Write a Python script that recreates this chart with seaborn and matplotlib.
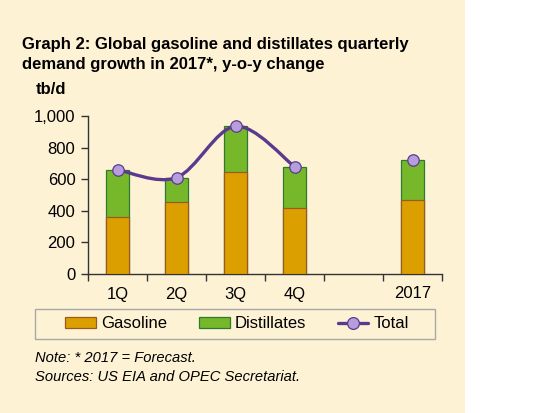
import numpy as np
import pandas as pd
import matplotlib
matplotlib.use('Agg')
import matplotlib.pyplot as plt
import seaborn as sns
from matplotlib.path import Path
from matplotlib.patches import PathPatch, Patch, Rectangle
from matplotlib.lines import Line2D
from matplotlib.ticker import FuncFormatter, FixedLocator

# values, tb/d
categories = ['1Q', '2Q', '3Q', '4Q', '2017']
order = ['1Q', '2Q', '3Q', '4Q', ' ', '2017']
gasoline = [363, 455, 645, 420, 470]
total = [660, 610, 935, 680, 720]

BG = '#FEF2D5'
GAS = '#DBA000'
GAS_EDGE = '#9A5A1E'
DIST = '#76B82A'
DIST_EDGE = '#2E7A32'
LINE = '#5B3A8E'
MARK = '#B59EDB'

sns.set_theme(style='white')
plt.rcParams['font.family'] = ['Liberation Sans', 'DejaVu Sans']
plt.rcParams['text.color'] = 'black'

df = pd.DataFrame({'period': categories, 'gasoline': gasoline, 'total': total})

fig = plt.figure(figsize=(5.5, 4.13), dpi=100, facecolor='white')
fig.patches.append(Rectangle((0, 0), 465 / 550, 1, transform=fig.transFigure,
                             facecolor=BG, edgecolor='none', zorder=-10))
# legend box
fig.patches.append(Rectangle((35 / 550, 1 - 339 / 413), 400 / 550, 30 / 413,
                             transform=fig.transFigure, facecolor=BG,
                             edgecolor='#A8A8A8', linewidth=1, zorder=-5))

ax = fig.add_axes([88 / 550, (413 - 274) / 413, (442 - 88) / 550, 158 / 413])
ax.set_zorder(2)
ax.set_facecolor(BG)

# total drawn in green first, gasoline laid over the lower part -> stacked look
sns.barplot(data=df, x='period', y='total', order=order, color=DIST,
            edgecolor=DIST_EDGE, linewidth=0.9, width=0.4, saturation=1, ax=ax, zorder=2)
sns.barplot(data=df, x='period', y='gasoline', order=order, color=GAS,
            edgecolor=GAS_EDGE, linewidth=0.9, width=0.4, saturation=1, ax=ax, zorder=3)

# smoothed total line through the quarters (Catmull-Rom style bezier)
pos = {c: i for i, c in enumerate(order)}
qx = np.array([pos[c] for c in categories[:4]], dtype=float)
qy = np.array(total[:4], dtype=float)
verts = [(qx[0], qy[0])]
codes = [Path.MOVETO]
n = len(qx)
for i in range(n - 1):
    p0 = np.array([qx[max(i - 1, 0)], qy[max(i - 1, 0)]])
    p1 = np.array([qx[i], qy[i]])
    p2 = np.array([qx[i + 1], qy[i + 1]])
    p3 = np.array([qx[min(i + 2, n - 1)], qy[min(i + 2, n - 1)]])
    c1 = p1 + (p2 - p0) / 6
    c2 = p2 - (p3 - p1) / 6
    verts += [tuple(c1), tuple(c2), tuple(p2)]
    codes += [Path.CURVE4] * 3
ax.add_patch(PathPatch(Path(verts, codes), facecolor='none', edgecolor=LINE,
                       linewidth=2.4, zorder=4, capstyle='round'))

sns.scatterplot(x=[pos[c] for c in categories], y=total, s=68, color=MARK,
                edgecolor=LINE, linewidth=0.9, zorder=5, ax=ax, legend=False)

ax.set_xlim(-0.5, 5.5)
ax.set_ylim(0, 1000)
ax.set_yticks([0, 200, 400, 600, 800, 1000])
ax.yaxis.set_major_formatter(FuncFormatter(lambda v, p: f'{int(v):,}'))
ax.xaxis.set_minor_locator(FixedLocator(np.arange(-0.5, 6, 1)))
ax.tick_params(axis='x', which='major', length=0, labelsize=12, pad=9, labelcolor='black')
ax.tick_params(axis='x', which='minor', length=5, width=1, direction='out', color='#333333', bottom=True)
ax.tick_params(axis='y', length=5, width=1, direction='out', labelsize=12, pad=4,
               labelcolor='black', color='#333333', left=True)
ax.set_xlabel('')
ax.set_ylabel('')
for s in ['top', 'right']:
    ax.spines[s].set_visible(False)
for s in ['left', 'bottom']:
    ax.spines[s].set_color('#333333')
    ax.spines[s].set_linewidth(1)

fig.text(22 / 550, 1 - 44 / 413, 'Graph 2: Global gasoline and distillates quarterly',
         fontsize=12, fontweight='bold', va='center', ha='left')
fig.text(22 / 550, 1 - 64 / 413, 'demand growth in 2017*, y-o-y change',
         fontsize=12, fontweight='bold', va='center', ha='left')
fig.text(36 / 550, 1 - 90 / 413, 'tb/d', fontsize=12, fontweight='bold', va='center', ha='left')

handles = [Patch(facecolor=GAS, edgecolor=GAS_EDGE, linewidth=0.9, label='Gasoline'),
           Patch(facecolor=DIST, edgecolor=DIST_EDGE, linewidth=0.9, label='Distillates'),
           Line2D([0], [0], color=LINE, linewidth=2.4, marker='o', markersize=8.5,
                  markerfacecolor=MARK, markeredgecolor=LINE, markeredgewidth=0.9,
                  label='Total')]
leg = fig.legend(handles=handles, loc='center', bbox_to_anchor=(237 / 550, 1 - 324 / 413),
                 ncol=3, frameon=False, fontsize=12, handlelength=1.85,
                 handleheight=0.6, handletextpad=0.3, columnspacing=1.9,
                 borderpad=0.3)

fig.text(35 / 550, 1 - 358 / 413, 'Note: * 2017 = Forecast.', fontsize=10.6,
         style='italic', va='center', ha='left')
fig.text(35 / 550, 1 - 377 / 413, 'Sources: US EIA and OPEC Secretariat.', fontsize=10.6,
         style='italic', va='center', ha='left')

fig.savefig('out.png', dpi=100, facecolor='white')
